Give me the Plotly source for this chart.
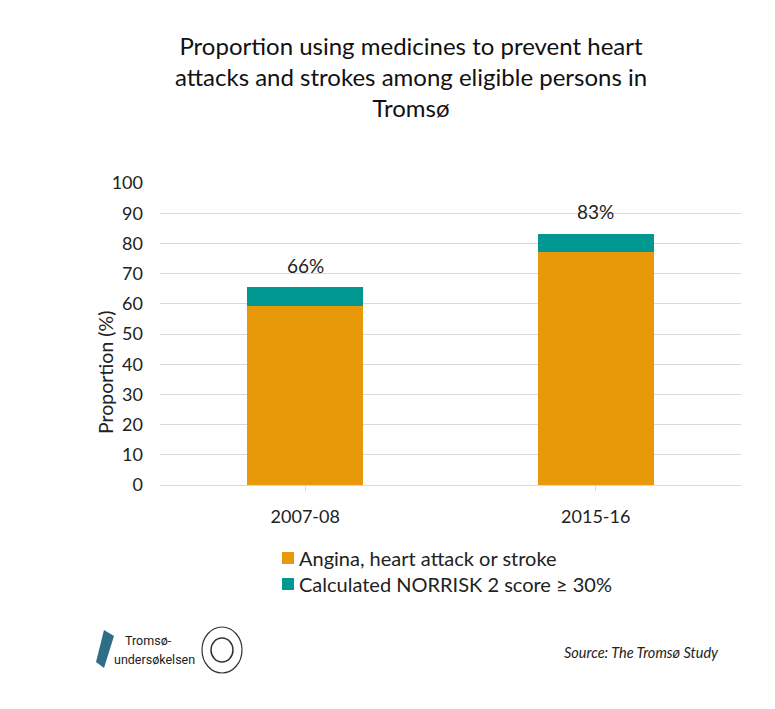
import plotly.graph_objects as go

categories = ["2007-08", "2015-16"]
angina = [59.4, 77.3]
norrisk = [6.1, 5.9]
series_names = ["Angina, heart attack or stroke", "Calculated NORRISK 2 score \u2265 30%"]
total_labels = ["66%", "83%"]
y_ticks = [0, 10, 20, 30, 40, 50, 60, 70, 80, 90, 100]

ORANGE = "#E8990A"
TEAL = "#009890"
COLORS = [ORANGE, TEAL]
FONT = "Lato, 'Open Sans', sans-serif"

# page has an 8px body margin; figure is sized to fit the window
W, H = 767, 701
PL, PR, PT, PB = 152, 733, 175, 477   # plot area in figure px
PW, PH = PR - PL, PB - PT


def px(xp):  # page x -> paper
    return (xp - 8 - PL) / PW


def py(yp):  # page y -> paper
    return (PB - (yp - 8)) / PH


fig = go.Figure()
for vals, name, col in zip([angina, norrisk], series_names, COLORS):
    fig.add_trace(go.Bar(x=categories, y=vals, name=name, showlegend=False,
                         marker=dict(color=col, line=dict(width=0))))

totals = [a + b for a, b in zip(angina, norrisk)]
for c, t, lab in zip(categories, totals, total_labels):
    fig.add_annotation(x=c, y=t, text=lab, showarrow=False, yshift=22,
                       font=dict(size=19, color="#222222", family=FONT))

# legend (square swatches + labels)
for i, (name, col) in enumerate(zip(series_names, COLORS)):
    yc = 558 + 26 * i
    fig.add_shape(type="rect", xref="paper", yref="paper",
                  x0=px(282), x1=px(294), y0=py(yc + 6), y1=py(yc - 6),
                  fillcolor=col, line=dict(width=0))
    fig.add_annotation(xref="paper", yref="paper", x=px(297), y=py(yc),
                       xanchor="left", yanchor="middle", showarrow=False,
                       text=name, font=dict(size=20, color="#222222", family=FONT))

# y-axis title
fig.add_annotation(xref="paper", yref="paper", x=px(105), y=py(373), textangle=-90,
                   xanchor="center", yanchor="middle", showarrow=False,
                   text="Proportion (%)", font=dict(size=19.5, color="#222222", family=FONT))

# footer: source and logo text
fig.add_annotation(xref="paper", yref="paper", x=px(721), y=py(652),
                   xanchor="right", yanchor="middle", showarrow=False,
                   text="<i>Source: The Troms\u00f8 Study</i>",
                   font=dict(size=14.5, color="#222222", family=FONT))
fig.add_annotation(xref="paper", yref="paper", x=px(123), y=py(640),
                   xanchor="left", yanchor="middle", showarrow=False,
                   text="Troms\u00f8-",
                   font=dict(size=12.5, color="#222222", family="Roboto, sans-serif"))
fig.add_annotation(xref="paper", yref="paper", x=px(112), y=py(659),
                   xanchor="left", yanchor="middle", showarrow=False,
                   text="unders\u00f8kelsen",
                   font=dict(size=12.5, color="#222222", family="Roboto, sans-serif"))
fig.add_shape(type="circle", xref="paper", yref="paper",
              x0=px(202), x1=px(242), y0=py(673), y1=py(627),
              line=dict(color="#333333", width=1.2))
fig.add_shape(type="circle", xref="paper", yref="paper",
              x0=px(211), x1=px(233), y0=py(662), y1=py(638),
              line=dict(color="#333333", width=1.5))
fig.add_shape(type="path", xref="paper", yref="paper",
              path="M {} {} L {} {} L {} {} L {} {} Z".format(
                  px(104), py(630), px(114), py(636), px(104), py(668), px(96), py(662)),
              fillcolor="#2E6E86", line=dict(width=0))

fig.update_layout(
    width=W, height=H,
    barmode="stack", bargap=0.6,
    paper_bgcolor="white", plot_bgcolor="white",
    margin=dict(l=PL, r=W - PR, t=PT, b=H - PB, autoexpand=False),
    font=dict(family=FONT, size=18, color="#222222"),
    title=dict(text="Proportion using medicines to prevent heart<br>attacks and strokes among eligible persons in<br>Troms\u00f8",
               x=(411 - 8) / W, xanchor="center", xref="container",
               y=1 - 47 / H, yanchor="top", yref="container",
               font=dict(size=24, color="#111111", family=FONT)),
    showlegend=False,
)
fig.update_yaxes(range=[0, 100], tickvals=y_ticks, showgrid=True, gridcolor="#D9D9D9",
                 gridwidth=1, zeroline=False, showline=False, ticks="",
                 ticklabelstandoff=16)
fig.update_xaxes(type="category", showline=True, linecolor="#D9D9D9", linewidth=1,
                 ticks="outside", ticklen=5, tickcolor="#D9D9D9", showgrid=False,
                 ticklabelstandoff=10, tickfont=dict(size=18))

fig.write_html("out.html")
